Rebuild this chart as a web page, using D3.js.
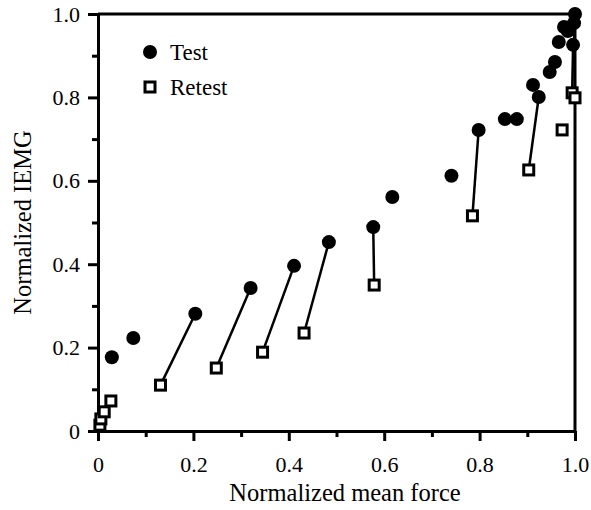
<!DOCTYPE html>
<html>
<head>
<meta charset="utf-8">
<script src="https://cdn.jsdelivr.net/npm/d3@7"></script>
<style>
  body { margin: 0; background: #fff; }
  svg text { font-family: "Liberation Serif", Tinos, "Times New Roman", Times, "DejaVu Serif", serif !important; fill: #000; }
</style>
</head>
<body>
<div id="chart"></div>
<script>
const WIDTH = 591;
const HEIGHT = 510;
const MARGINS = { left: 98, right: 16, top: 14, bottom: 79 };

// Test points (filled circles)
const testX = [0.029, 0.074, 0.204, 0.320, 0.411, 0.484, 0.577, 0.617, 0.741, 0.798,
  0.853, 0.878, 0.912, 0.924, 0.947, 0.958, 0.966, 0.996, 0.977, 0.985, 0.998, 1.0];
const testY = [0.177, 0.223, 0.281, 0.343, 0.396, 0.453, 0.489, 0.561, 0.612, 0.722,
  0.748, 0.748, 0.830, 0.801, 0.861, 0.885, 0.933, 0.926, 0.969, 0.959, 0.978, 1.0];

// Retest points (open squares)
const retestX = [0.004, 0.006, 0.013, 0.027, 0.131, 0.248, 0.345, 0.432, 0.579, 0.785,
  0.903, 0.973, 0.994, 1.0];
const retestY = [0.014, 0.029, 0.046, 0.072, 0.110, 0.151, 0.189, 0.235, 0.350, 0.516,
  0.626, 0.722, 0.811, 0.799];

// lines joining a test point to its retest point: [test index, retest index]
const pairs = [[2, 4], [3, 5], [4, 6], [5, 7], [6, 8], [9, 9], [13, 10], [17, 12], [20, 13]];

const majorTicks = [0, 0.2, 0.4, 0.6, 0.8, 1.0];
const minorTicks = [0.1, 0.3, 0.5, 0.7, 0.9];
const tickLabels = ["0", "0.2", "0.4", "0.6", "0.8", "1.0"];

const legendNames = ["Test", "Retest"];

const FONT = '"Liberation Serif", Tinos, "Times New Roman", Times, "DejaVu Serif", serif';

const svg = d3.select("#chart")
  .append("svg")
  .attr("width", WIDTH)
  .attr("height", HEIGHT)
  .attr("font-family", FONT);

const X_SCALE = d3.scaleLinear().domain([0, 1]).range([MARGINS.left, WIDTH - MARGINS.right]);
const Y_SCALE = d3.scaleLinear().domain([0, 1]).range([HEIGHT - MARGINS.bottom, MARGINS.top]);

const fmt = (d) => tickLabels[majorTicks.indexOf(d)];

// minor ticks
svg.append("g")
  .attr("transform", "translate(0," + Y_SCALE(0) + ")")
  .call(d3.axisBottom(X_SCALE).tickValues(minorTicks).tickSize(6).tickFormat(""))
  .call((g) => g.select(".domain").remove());

svg.append("g")
  .attr("transform", "translate(" + X_SCALE(0) + ",0)")
  .call(d3.axisLeft(Y_SCALE).tickValues(minorTicks).tickSize(6).tickFormat(""))
  .call((g) => g.select(".domain").remove());

// major ticks with labels
svg.append("g")
  .attr("transform", "translate(0," + Y_SCALE(0) + ")")
  .call(d3.axisBottom(X_SCALE).tickValues(majorTicks).tickSize(10).tickSizeOuter(0)
    .tickPadding(15).tickFormat(fmt));

svg.append("g")
  .attr("transform", "translate(" + X_SCALE(0) + ",0)")
  .call(d3.axisLeft(Y_SCALE).tickValues(majorTicks).tickSize(10).tickSizeOuter(0)
    .tickPadding(8).tickFormat(fmt));

svg.selectAll("g").attr("font-family", FONT);
svg.selectAll(".tick line").attr("stroke", "#000").attr("stroke-width", 3);
svg.selectAll(".domain").attr("stroke", "#000").attr("stroke-width", 3);
svg.selectAll(".tick text").attr("font-size", "22px");

// top and right borders of the box
svg.append("path")
  .attr("d", "M" + X_SCALE(0) + "," + Y_SCALE(1) + "H" + X_SCALE(1) + "V" + Y_SCALE(0))
  .attr("fill", "none")
  .attr("stroke", "#000")
  .attr("stroke-width", 3);

// axis titles
svg.append("text")
  .attr("x", 345)
  .attr("y", 501)
  .attr("text-anchor", "middle")
  .attr("font-size", "24.5px")
  .text("Normalized mean force");

svg.append("text")
  .attr("transform", "translate(31," + (Y_SCALE(0) + Y_SCALE(1)) / 2 + ") rotate(-90)")
  .attr("text-anchor", "middle")
  .attr("font-size", "24.5px")
  .text("Normalized IEMG");

// connecting lines
svg.selectAll(".pair")
  .data(pairs)
  .enter()
  .append("line")
  .attr("class", "pair")
  .attr("x1", (d) => X_SCALE(testX[d[0]]))
  .attr("y1", (d) => Y_SCALE(testY[d[0]]))
  .attr("x2", (d) => X_SCALE(retestX[d[1]]))
  .attr("y2", (d) => Y_SCALE(retestY[d[1]]))
  .attr("stroke", "#000")
  .attr("stroke-width", 2.5);

// retest squares
svg.selectAll(".retest")
  .data(retestX)
  .enter()
  .append("rect")
  .attr("class", "retest")
  .attr("x", (d) => X_SCALE(d) - 5)
  .attr("y", (d, i) => Y_SCALE(retestY[i]) - 5)
  .attr("width", 10)
  .attr("height", 10)
  .attr("fill", "#fff")
  .attr("stroke", "#000")
  .attr("stroke-width", 3);

// test circles
svg.selectAll(".test")
  .data(testX)
  .enter()
  .append("circle")
  .attr("class", "test")
  .attr("cx", (d) => X_SCALE(d))
  .attr("cy", (d, i) => Y_SCALE(testY[i]))
  .attr("r", 7)
  .attr("fill", "#000");

// legend
const legend = svg.append("g").attr("transform", "translate(150,52)");

legend.append("circle").attr("cx", 0).attr("cy", 0).attr("r", 7).attr("fill", "#000");
legend.append("rect")
  .attr("x", -5).attr("y", 30).attr("width", 10).attr("height", 10)
  .attr("fill", "#fff").attr("stroke", "#000").attr("stroke-width", 3);

legend.selectAll(".legend-label")
  .data(legendNames)
  .enter()
  .append("text")
  .attr("class", "legend-label")
  .attr("x", 20)
  .attr("y", (d, i) => i * 35 + 8)
  .attr("font-size", "23px")
  .text((d) => d);
</script>
</body>
</html>
